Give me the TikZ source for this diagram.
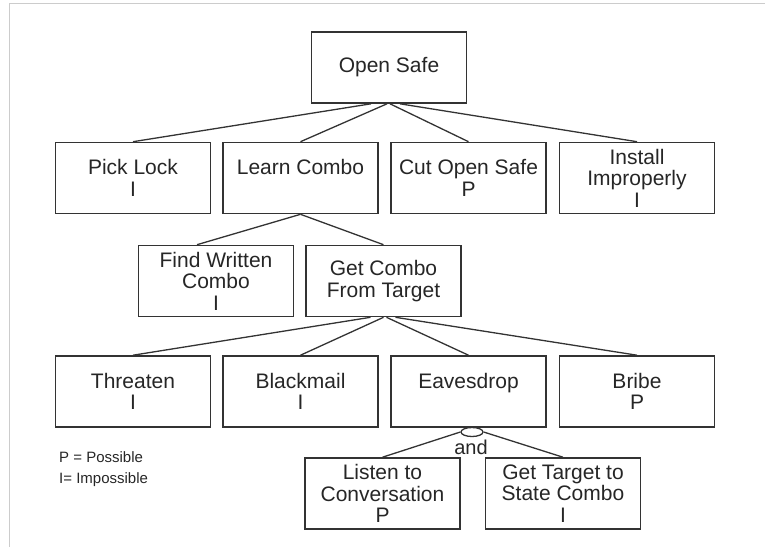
\documentclass[tikz,border=0pt]{standalone}
\usepackage{fontspec}
\setmainfont{Liberation Sans}
\usetikzlibrary{calc, shapes.geometric}

\begin{document}
\begin{tikzpicture}[x=1pt, y=-1pt,
    goal/.style={draw=black!80, line width=1.6pt, minimum width=155pt, minimum height=71pt,
        inner sep=0pt, align=center, text=black!85, font=\fontsize{21}{21.5}\selectfont},
    link/.style={black!80, line width=1.3pt},
    note/.style={anchor=west, inner sep=0pt, text=black!85, font=\fontsize{15}{15}\selectfont}]
    \useasboundingbox (0,0) rectangle (765,547);
    \draw[black!20, line width=1pt] (765,3) -- (9,3) -- (9,547);

    % top goal and first level
    \node[goal] (os) at (389,67.5) {Open Safe};
    \node[goal] (pl) at (133,178) {Pick Lock\\I};
    \node[goal] (lc) at (300.5,178) {Learn Combo\\\phantom{I}};
    \node[goal] (co) at (468.5,178) {Cut Open Safe\\P};
    \node[goal] (ii) at (637,178) {Install\\Improperly\\I};

    % learn combo
    \node[goal] (fw) at (216,281) {Find Written\\Combo\\I};
    \node[goal] (gc) at (383.5,281) {Get Combo\\From Target};

    % get combo from target
    \node[goal] (th) at (133,391.5) {Threaten\\I};
    \node[goal] (bm) at (300.5,391.5) {Blackmail\\I};
    \node[goal] (ed) at (468.5,391.5) {Eavesdrop\\\phantom{I}};
    \node[goal] (br) at (637,391.5) {Bribe\\P};

    % eavesdrop (and)
    \node[draw=black!80, line width=1.3pt, ellipse, minimum width=22pt, minimum height=9pt,
        inner sep=0pt] (gate) at (472,432) {};
    \node[font=\fontsize{20}{20}\selectfont, text=black!85, inner sep=0pt] (andlbl) at (471,447) {and};
    \node[goal] (lt) at (382.5,493.5) {Listen to\\Conversation\\P};
    \node[goal] (gt) at (563,493.5) {Get Target to\\State Combo\\I};

    \foreach \p/\dx/\c in {os/-18/pl, os/-2/lc, os/1/co, os/11/ii,
                           gc/-13/th, gc/0/bm, gc/3/ed, gc/12/br} {
        \draw[link] ($(\p.south)+(\dx,0)$) -- (\c.north);
    }
    \draw[link] (lc.south) -- ($(fw.north)+(-19,0)$);
    \draw[link] (lc.south) -- (gc.north);
    \draw[link] (gate.west) -- (lt.north);
    \draw[link] (gate.east) -- (gt.north);

    % legend
    \node[note] (lgp) at (59,457) {P = Possible};
    \node[note] (lgi) at (59,480) {I= Impossible};
\end{tikzpicture}
\end{document}
